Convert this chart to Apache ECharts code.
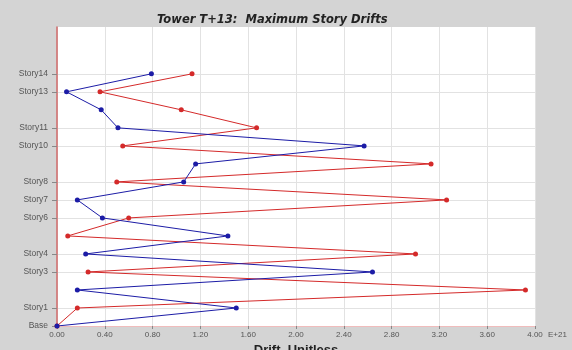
<!DOCTYPE html>
<html>
<head>
<meta charset="utf-8">
<script src="https://cdn.jsdelivr.net/npm/echarts@6/dist/echarts.min.js"></script>
<style>html,body{margin:0;padding:0;background:#d4d4d4;}#c{width:572px;height:350px;}</style>
</head>
<body>
<div id="c"></div>
<script>
// Story levels (0 = Base)
var storyNames = ['Base','Story1','Story2','Story3','Story4','Story5','Story6','Story7','Story8','Story9','Story10','Story11','Story12','Story13','Story14'];
var labeledLevels = [0,1,3,4,6,7,8,10,11,13,14];
var xTicks = [0,0.4,0.8,1.2,1.6,2.0,2.4,2.8,3.2,3.6,4.0];
// Drift values per story (Base..Story14)
var blueDrift = [0.00,1.50,0.17,2.64,0.24,1.43,0.38,0.17,1.06,1.16,2.57,0.51,0.37,0.08,0.79];
var redDrift  = [0.00,0.17,3.92,0.26,3.00,0.09,0.60,3.26,0.50,3.13,0.55,1.67,1.04,0.36,1.13];

function toPairs(vals){ return vals.map(function(v,i){ return [v,i]; }); }

var chart = echarts.init(document.getElementById('c'));
chart.setOption({
  backgroundColor:'#d4d4d4',
  animation:false,
  title:{text:'Tower T+13:  Maximum Story Drifts',left:152,top:9,
    textStyle:{fontFamily:'DejaVu Sans',fontSize:11.5,fontWeight:'bold',fontStyle:'italic',color:'#222'}},
  grid:{left:57,right:37,top:27,bottom:24,outerBoundsMode:'none',containLabel:false,show:true,backgroundColor:'#ffffff',borderWidth:0},
  xAxis:{type:'value',min:0,max:4,interval:0.4,
    axisLine:{show:true,lineStyle:{color:'#f0bcbc',width:1}},
    axisTick:{show:true,length:3,lineStyle:{color:'#888'}},
    axisLabel:{fontFamily:'Liberation Sans',fontSize:8,color:'#555',margin:5,
      formatter:function(v){return v.toFixed(2);}},
    splitLine:{show:true,lineStyle:{color:'#e2e2e2',width:1}},
    name:'Drift, Unitless',nameLocation:'middle',nameGap:14,
    nameTextStyle:{fontFamily:'Liberation Sans',fontSize:13,fontWeight:'bold',color:'#222',verticalAlign:'top'}},
  yAxis:{type:'value',min:0,max:16.6,
    axisLine:{show:true,lineStyle:{color:'#d06a6a',width:1.5}},
    axisTick:{show:true,length:5,customValues:labeledLevels,lineStyle:{color:'#888'}},
    axisLabel:{customValues:labeledLevels,fontFamily:'Liberation Sans',fontSize:8.5,color:'#555',margin:9,
      formatter:function(v){return storyNames[v]||'';}},
    splitLine:{show:true,lineStyle:{color:'#e2e2e2',width:1}}},
  graphic:[{type:'text',left:548,top:331,style:{text:'E+21',font:'8px Liberation Sans',fill:'#555'}}],
  series:[
    {type:'line',data:toPairs(redDrift),symbol:'circle',symbolSize:5,
      lineStyle:{color:'#d42a2a',width:1},itemStyle:{color:'#d42a2a'}},
    {type:'line',data:toPairs(blueDrift),symbol:'circle',symbolSize:5,
      lineStyle:{color:'#1c1ca6',width:1},itemStyle:{color:'#1c1ca6'}}
  ]
});
</script>
</body>
</html>
